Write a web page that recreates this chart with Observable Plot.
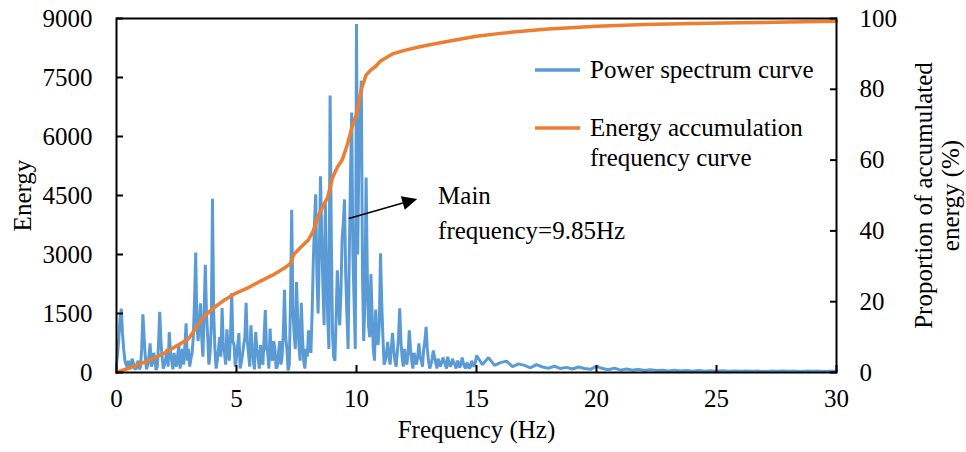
<!DOCTYPE html>
<html><head><meta charset="utf-8">
<script src="https://cdn.jsdelivr.net/npm/d3@7"></script>
<script src="https://cdn.jsdelivr.net/npm/@observablehq/plot@0.6"></script>
<style>
body{margin:0;background:#fff;}
#chart{width:966px;height:452px;}
svg text{font-family:"Liberation Serif","Times New Roman",serif;}
</style></head><body><div id="chart"></div>
<script>
// Power spectrum, 0–15 Hz sampled every 0.05 Hz (one row = 1 Hz)
const spectrumLow = [
 200, 500, 900,1400,1620,1000, 600, 300, 200, 150, 300, 100, 120, 350, 250, 100,  80, 200, 300,  80,
 150, 600,1480, 900, 400,  80, 200, 400, 740, 150, 250, 500, 300,  60, 150, 700,1540, 800, 400, 100,
 200, 350, 600, 150,1030, 500, 300,  80, 500, 250, 150, 450, 700, 100, 350, 600, 200, 700,1250, 300,
 600, 150, 350, 500, 900,1800,3050,1200, 800,1300,1760, 900, 400,1500,2740,1500, 900, 200, 500,1200,
4420,1500, 600, 100, 300, 600, 900, 400,1640, 700, 500, 200,1100, 600, 300, 900,2020, 800, 700, 150,
 400, 700,1000, 100, 250, 450, 700, 900,1770, 800, 500, 150,1200, 700, 300,  80,1030, 600, 400, 100,
 700, 300, 200, 900,1590, 600, 500, 100,1120, 400, 300, 800, 600, 100, 150, 500, 800, 200, 400,1000,
2100, 900, 600,  50, 200,1800,4140,1600,1000, 600,2300,1400, 700, 300,1770, 900, 300, 100, 600, 400,
1070, 600, 500,1500,2820,3800,4530,2500,1500,3000,4990,3500,2200,1200,4320,2800,1400, 600,7040,3500,
1000, 400, 300,1400,2600,1800,1200,2000,3400,3800,4400,2500,1500, 600,3000,5000,6610,3000,1800, 600,
8860,3000,5500,6500,7420,2500, 800,1800,4960,2500,1200, 900,2500,1500, 600, 300,1600, 900, 700,1200,
3030,1800, 900, 200, 300, 500, 780, 400, 200, 600,1000, 600, 300, 150, 500, 900,1630, 800, 400, 150,
 600, 350, 200, 500,1070, 600, 300, 100, 500, 350, 200, 400, 740, 400, 300, 150, 600, 800,1160, 600,
 300, 100, 200, 350, 560, 400, 250, 100, 350, 250, 150, 250, 380, 300, 200, 100, 400, 250, 150, 200,
 350, 250, 200, 100, 300, 250, 120, 200, 380, 250, 150, 100, 250, 200, 100, 150, 300, 200, 150, 250,
 430];
// Power spectrum, 15.25–30 Hz sampled every 0.25 Hz
const spectrumHigh = [
 200, 380, 180, 250, 290, 150, 220, 180, 120, 200,
 140, 110, 160, 100, 130,  90, 140, 100,  80, 160,
 100,  70, 110,  60,  90,  60,  80,  50,  70,  50,
  60,  40,  60,  40,  50,  35,  50,  35,  45,  30,
  45,  30,  40,  30,  40,  30,  35,  25,  35,  30,
  40,  30,  35,  25,  35,  30,  35,  25,  30,  30];

// Energy accumulation frequency curve (%)
const cumFreq = [0,0.5,1,1.5,2,2.5,3,3.3,3.6,4,4.5,5,5.5,6,6.5,7,7.25,7.4,7.7,8,8.2,8.4,8.6,8.8,9.0,9.2,9.4,9.6,9.8,10.0,10.2,10.4,10.6,10.8,11.0,11.5,12,12.5,13,14,15,16,17,18,20,22,24,26,28,30];
const cumPct  = [0,1.2,2.5,3.8,5.5,7.5,9.5,12.5,15.5,18,20.5,22.5,24,25.8,27.5,29.5,30.8,33.5,35.5,37.5,40,44,47,49.5,55,58,60,64,69,73,80,84,85.5,86.5,88,90,91,91.8,92.5,93.8,95,95.8,96.5,97,97.8,98.3,98.6,98.8,99,99.2];

const xTicks = [0,5,10,15,20,25,30];
const energyTicks = [0,1500,3000,4500,6000,7500,9000];
const pctTicks = [0,20,40,60,80,100];
const energyMax = 9000, pctMax = 100;

const seriesNames = ["Power spectrum curve", "Energy accumulation\nfrequency curve"];
const annotation = {text: "Main\nfrequency=9.85Hz", x: 13.4, y: 4130, fromX: 9.7, fromY: 3900, toX: 12.55, toY: 4400};

const spectrum = [
  ...spectrumLow.map((e, i) => ({f: i / 20, e})),
  ...spectrumHigh.map((e, i) => ({f: 15.25 + i * 0.25, e}))
];
const k = energyMax / pctMax;
const cum = cumFreq.map((f, i) => ({f, e: cumPct[i] * k}));

const blue = "#5B9BD5", orange = "#ED7D31";

const plot = Plot.plot({
  width: 966, height: 452,
  marginLeft: 116, marginRight: 130, marginTop: 18, marginBottom: 80,
  style: {fontFamily: "Liberation Serif, Times New Roman, serif", fontSize: "25px", background: "#fff", color: "#000"},
  x: {domain: [0, 30]},
  y: {domain: [0, energyMax]},
  marks: [
    Plot.line(spectrum, {x: "f", y: "e", stroke: blue, strokeWidth: 3, strokeLinejoin: "miter"}),
    Plot.line(cum, {x: "f", y: "e", stroke: orange, strokeWidth: 3.5}),
    Plot.frame({stroke: "#000", strokeWidth: 2}),
    Plot.axisY(energyTicks, {anchor: "left", tickSize: -7, tickPadding: 31, tickFormat: d => String(d), label: null, strokeWidth: 2}),
    Plot.axisY(pctTicks.map(p => p * k), {anchor: "right", tickSize: -7, tickPadding: 30, tickFormat: d => String(Math.round(d / k)), label: null, strokeWidth: 2}),
    Plot.axisX(xTicks, {anchor: "bottom", tickSize: -7, tickPadding: 24, tickFormat: d => String(d), label: null, strokeWidth: 2}),
    Plot.text(["Energy"], {frameAnchor: "left", dx: -94, rotate: -90, textAnchor: "middle", fontSize: 25}),
    Plot.text(["Frequency (Hz)"], {frameAnchor: "bottom", dy: 65, textAnchor: "middle", fontSize: 25}),
    Plot.text(["Proportion of accumulated\nenergy (%)"], {frameAnchor: "right", dx: 100, rotate: -90, textAnchor: "middle", fontSize: 25, lineHeight: 1.1}),
    Plot.text([annotation], {x: "x", y: "y", text: "text", textAnchor: "start", lineAnchor: "middle", lineHeight: 1.4, fontSize: 25})
  ]
});
document.getElementById("chart").appendChild(plot);

const svg = d3.select(plot);
const sx = plot.scale("x"), sy = plot.scale("y");
// arrow with filled head
const x1 = sx.apply(annotation.fromX), y1 = sy.apply(annotation.fromY);
const x2 = sx.apply(annotation.toX), y2 = sy.apply(annotation.toY);
const ang = Math.atan2(y2 - y1, x2 - x1), hl = 15, hw = 7;
const bx = x2 - hl * Math.cos(ang), by = y2 - hl * Math.sin(ang);
const g = svg.append("g");
g.append("line").attr("x1", x1).attr("y1", y1).attr("x2", bx).attr("y2", by).attr("stroke", "#000").attr("stroke-width", 1.6);
g.append("path").attr("d", `M${x2},${y2}L${bx - hw * Math.sin(ang)},${by + hw * Math.cos(ang)}L${bx + hw * Math.sin(ang)},${by - hw * Math.cos(ang)}Z`).attr("fill", "#000");

// legend
const lg = svg.append("g").attr("font-size", 25).attr("text-anchor", "start").attr("font-family", "Liberation Serif, Times New Roman, serif");
const items = [{c: blue, y: 70, t: seriesNames[0]}, {c: orange, y: 128, t: seriesNames[1]}];
items.forEach(it => {
  lg.append("line").attr("x1", 535).attr("x2", 580).attr("y1", it.y).attr("y2", it.y).attr("stroke", it.c).attr("stroke-width", 3.5);
  it.t.split("\n").forEach((s, i) => {
    lg.append("text").attr("x", 590).attr("y", it.y + i * 30).attr("dy", "0.32em").attr("text-anchor", "start").text(s);
  });
});
</script></body></html>
